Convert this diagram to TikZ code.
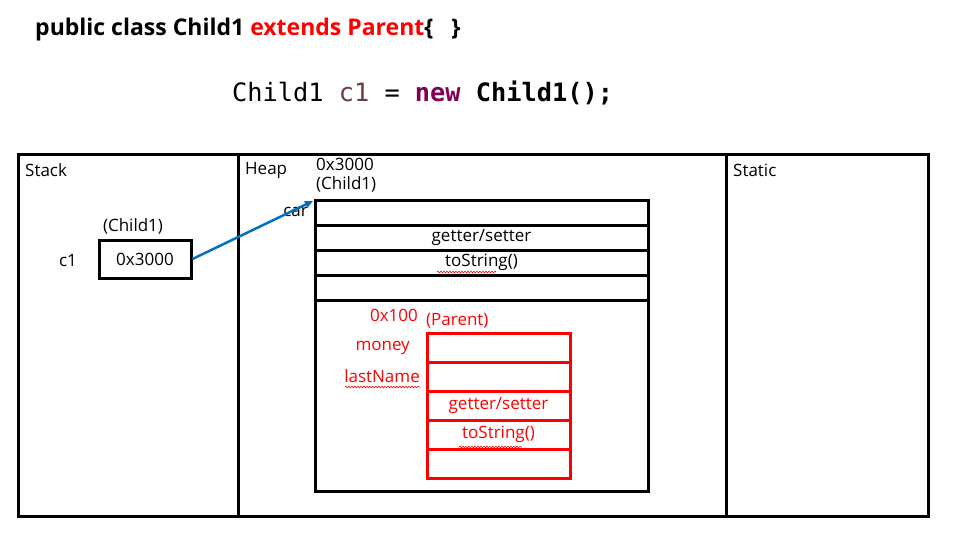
\documentclass[tikz,border=0pt]{standalone}
\usepackage{fontspec}
\setmainfont{Open Sans}
\setmonofont{DejaVu Sans Mono}
\usetikzlibrary{positioning, arrows.meta, decorations.pathmorphing}
\definecolor{keyred}{HTML}{FF0000}
\definecolor{refblue}{HTML}{0070C0}
\definecolor{varbrown}{HTML}{6A3E3E}
\definecolor{kwpurple}{HTML}{7F0055}
\tikzset{
  area/.style={draw, line width=3pt},
  row/.style={draw, line width=3pt, minimum width=#1, minimum height=25pt, inner sep=0pt, outer sep=0pt},
  redrow/.style={draw=keyred, line width=3pt, minimum width=143pt, minimum height=29pt, inner sep=0pt, outer sep=0pt},
  lbl/.style={inner sep=0pt, font=\fontsize{17}{20}\selectfont},
  squiggle/.style={keyred, line width=0.6pt, decorate, decoration={snake, amplitude=0.8pt, segment length=3pt}}
}
\begin{document}
\begin{tikzpicture}[x=1pt, y=-1pt]
		\useasboundingbox (0,0) rectangle (956,536);
		% title lines
		\node[inner sep=0pt, anchor=west, font=\fontsize{23}{27}\selectfont\bfseries] (title) at (35,30) {public class Child1 \textcolor{keyred}{extends Parent}\{\ \ \ \}};
		\node[inner sep=0pt, anchor=west, font=\fontsize{25.3}{30}\selectfont\ttfamily] (code) at (232,93) {Child1 \textcolor{varbrown}{c1} = \textcolor{kwpurple}{\textbf{new}} \textbf{Child1();}};
		
		% memory areas
		\draw[area] (18,154) rectangle (928,516);
		\draw[area] (238,154) -- (238,516);
		\draw[area] (726,154) -- (726,516);
		\node[lbl, anchor=west] (stack) at (25,170) {Stack};
		\node[lbl, anchor=west] (heap) at (245,170) {Heap};
		\node[lbl, anchor=west] (static) at (733,170) {Static};
		
		% stack variable
		\node[draw, line width=3pt, minimum width=92pt, minimum height=38pt, inner sep=0pt, font=\fontsize{17}{20}\selectfont] (c1box) at (145,259) {0x3000};
		\node[lbl] (c1type) at (133,226) {(Child1)};
		\node[lbl] (c1) at (68,261) {c1};
		
		% child object
		\node[lbl, anchor=west] (addr) at (316,164) {0x3000};
		\node[lbl, anchor=west] (ctype) at (316,184) {(Child1)};
		\node[row=333pt] (r1) at (481.5,212.5) {};
		\node[row=333pt, below=0pt of r1, lbl] (r2) {getter/setter};
		\node[row=333pt, below=0pt of r2, lbl] (r3) {toString()};
		\node[row=333pt, below=0pt of r3] (r4) {};
		\node[row=333pt, below=0pt of r4, minimum height=191pt] (r5) {};
		\node[lbl, anchor=east] (car) at (308,212) {car};
		\draw[squiggle] (437,272) -- (496,272);
		
		% parent part
		\node[lbl, text=keyred] (paddr) at (394,315) {0x100};
		\node[lbl, text=keyred, anchor=west] (ptype) at (426,321) {(Parent)};
		\node[redrow] (p1) at (498.5,347.5) {};
		\node[redrow, below=0pt of p1] (p2) {};
		\node[redrow, below=0pt of p2, lbl, text=keyred] (p3) {getter/setter};
		\node[redrow, below=0pt of p3, lbl, text=keyred] (p4) {toString()};
		\node[redrow, below=0pt of p4] (p5) {};
		\node[lbl, text=keyred, anchor=east] (money) at (410,348) {money};
		\node[lbl, text=keyred, anchor=east] (lname) at (420,376) {lastName};
		\draw[squiggle] (345,387) -- (420,387);
		\draw[squiggle] (459,447) -- (522,447);
		
		% reference
		\coordinate (objtop) at (313,201);
		\draw[refblue, line width=2.5pt, -{Triangle[length=8pt, width=7pt]}] (c1box.east) -- (objtop);
		\end{tikzpicture}
\end{document}
